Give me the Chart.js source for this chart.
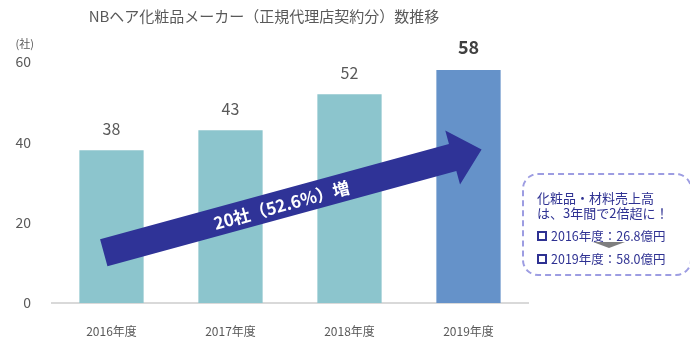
<!DOCTYPE html>
<html>
<head>
<meta charset="utf-8">
<title>NBヘア化粧品メーカー数推移</title>
<style>
  body { margin: 0; background: #fff; font-family: "Noto Sans CJK JP", "Noto Sans", sans-serif; }
  #wrap { position: relative; width: 690px; height: 342px; }
  #memo {
    position: absolute; left: 522px; top: 173px;
    width: 153px; height: 99px;
    border: 2px dashed #9d9de2; border-radius: 16px;
    color: #2e3192; padding-left: 13px; box-sizing: content-box;
  }
  #memo .l1 { margin-top: 15px; font-size: 13px; line-height: 15px; white-space: nowrap; }
  #memo .l2 { font-size: 13px; line-height: 15px; white-space: nowrap; }
  #memo .item { font-size: 12.5px; line-height: 16px; white-space: nowrap; }
  #memo .item.first { margin-top: 8px; }
  #memo .sq { display: inline-block; width: 6px; height: 6px; border: 2px solid #2e3192; margin-right: 4px; vertical-align: 0px; }
  #memo .gap { height: 7px; }
  #memo .down {
    position: absolute; left: 69px; top: 67px; width: 0; height: 0;
    border-left: 16px solid transparent; border-right: 16px solid transparent;
    border-top: 6px solid #7f7f7f;
  }
</style>
</head>
<body>
<div id="wrap">
  <canvas id="chart" width="690" height="342"></canvas>
  <div id="memo">
    <div class="l1">化粧品・材料売上高</div>
    <div class="l2">は、3年間で2倍超に！</div>
    <div class="item first"><span class="sq"></span>2016年度：26.8億円</div>
    <div class="gap"></div>
    <div class="item"><span class="sq"></span>2019年度：58.0億円</div>
    <div class="down"></div>
  </div>
</div>

<script src="https://cdn.jsdelivr.net/npm/chart.js"></script>
<script>
  const years = ['2016年度', '2017年度', '2018年度', '2019年度'];
  const makerCounts = [38, 43, 52, 58];
  const yTicks = [0, 20, 40, 60];
  const barColors = ['#8cc5cd', '#8cc5cd', '#8cc5cd', '#6592c9'];
  const increaseLabel = '20社（52.6%）増';

  const FONT = '"Noto Sans CJK JP", "Noto Sans", sans-serif';

  // value labels above bars, unit label, and the big increase arrow
  const extras = {
    id: 'extras',
    afterDatasetsDraw(chart) {
      const ctx = chart.ctx;
      const x = chart.scales.x;
      const y = chart.scales.y;

      // arrow from 2016 to past 2019
      const x0 = x.getPixelForValue(-0.065), y0 = y.getPixelForValue(12.5);
      const x1 = x.getPixelForValue(3.11), y1 = y.getPixelForValue(38.2);
      const len = Math.hypot(x1 - x0, y1 - y0);
      const ang = Math.atan2(y1 - y0, x1 - x0);
      const half = 14, headHalf = 28, headLen = 30;
      ctx.save();
      ctx.translate(x0, y0);
      ctx.rotate(ang);
      ctx.fillStyle = '#2f3397';
      ctx.beginPath();
      ctx.moveTo(0, -half);
      ctx.lineTo(len - headLen, -half);
      ctx.lineTo(len - headLen, -headHalf);
      ctx.lineTo(len, 0);
      ctx.lineTo(len - headLen, headHalf);
      ctx.lineTo(len - headLen, half);
      ctx.lineTo(0, half);
      ctx.closePath();
      ctx.fill();
      ctx.fillStyle = '#ffffff';
      ctx.font = 'bold 17px ' + FONT;
      ctx.textAlign = 'center';
      ctx.textBaseline = 'middle';
      ctx.fillText(increaseLabel, len * 0.47, 1);
      ctx.restore();

      // numbers over each bar
      const meta = chart.getDatasetMeta(0);
      ctx.save();
      ctx.textAlign = 'center';
      ctx.textBaseline = 'middle';
      meta.data.forEach((bar, i) => {
        const last = i === makerCounts.length - 1;
        ctx.fillStyle = last ? '#404040' : '#595959';
        ctx.font = (last ? 'bold 18px ' : '16px ') + FONT;
        ctx.fillText(String(makerCounts[i]), bar.x, bar.y - (last ? 23 : 21));
      });

      // unit above the y axis
      ctx.fillStyle = '#595959';
      ctx.font = '11px ' + FONT;
      ctx.textAlign = 'right';
      ctx.fillText('(社)', 34, 44);
      ctx.restore();
    }
  };

  new Chart(document.getElementById('chart'), {
    type: 'bar',
    data: {
      labels: years,
      datasets: [{
        data: makerCounts,
        backgroundColor: barColors,
        categoryPercentage: 1,
        barPercentage: 0.54
      }]
    },
    options: {
      responsive: false,
      animation: false,
      layout: { padding: { left: 0, right: 162, bottom: 0, top: 0 } },
      plugins: {
        legend: { display: false },
        tooltip: { enabled: false },
        title: {
          display: true,
          text: 'NBヘア化粧品メーカー（正規代理店契約分）数推移',
          color: '#595959',
          font: { family: FONT, size: 15, weight: 'normal' },
          padding: { top: 7, bottom: 37 }
        }
      },
      scales: {
        x: {
          grid: { display: false },
          border: { display: true, color: '#d9d9d9', width: 2 },
          ticks: { color: '#595959', font: { family: FONT, size: 12 }, padding: 13 },
          afterFit(scale) { scale.height = 39; }
        },
        y: {
          min: 0,
          max: 60,
          grid: { display: false, drawTicks: false },
          border: { display: false },
          ticks: { color: '#595959', font: { family: FONT, size: 14 }, padding: 21 },
          afterBuildTicks(scale) { scale.ticks = yTicks.map(v => ({ value: v })); },
          afterFit(scale) { scale.width = 52; }
        }
      }
    },
    plugins: [extras]
  });
</script>
</body>
</html>
